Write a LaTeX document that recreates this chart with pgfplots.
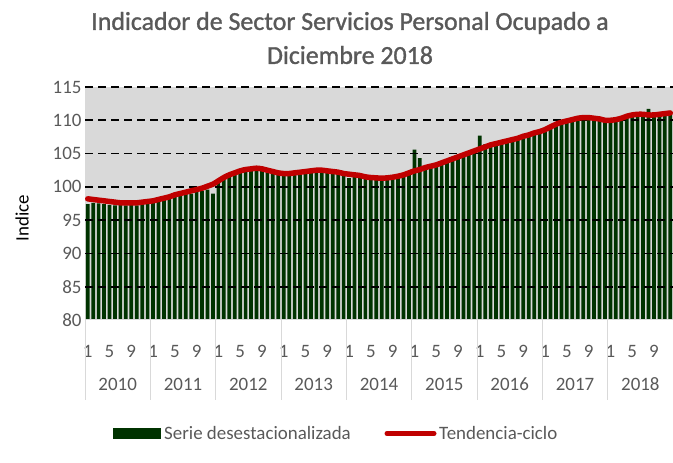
\documentclass[border=0pt]{standalone}
\usepackage{pgfplots}
\pgfplotsset{compat=1.18}
\usepackage{pgfplotstable}
\usepackage{fontspec}
\setmainfont{Carlito}
\newfontfamily\titlefont[FakeBold=1.2]{Carlito}
\definecolor{bgg}{RGB}{217,217,217}
\definecolor{dg}{RGB}{0,51,0}
\definecolor{rd}{RGB}{192,0,0}
\definecolor{tg}{RGB}{89,89,89}
\definecolor{sepg}{RGB}{217,217,217}

\pgfplotstableread{
i bar trend
0 97.4 98.2
1 97.6 98.1
2 97.5 98.0
3 97.4 97.9
4 97.3 97.8
5 97.2 97.7
6 97.3 97.6
7 97.2 97.6
8 97.3 97.6
9 97.2 97.6
10 97.4 97.7
11 97.5 97.8
12 97.6 97.9
13 97.8 98.1
14 98.0 98.3
15 98.2 98.5
16 98.5 98.8
17 98.7 99.0
18 98.9 99.2
19 99.0 99.4
20 99.2 99.6
21 99.4 99.8
22 99.6 100.1
23 99.0 100.4
24 101.0 100.9
25 101.5 101.4
26 101.8 101.8
27 102.2 102.1
28 102.5 102.4
29 102.7 102.6
30 102.9 102.7
31 102.6 102.8
32 103.0 102.7
33 102.7 102.5
34 102.4 102.3
35 102.2 102.1
36 102.0 102.0
37 102.1 102.0
38 102.3 102.1
39 102.2 102.2
40 102.4 102.3
41 102.5 102.4
42 102.6 102.5
43 102.4 102.5
44 102.5 102.4
45 102.2 102.3
46 102.3 102.2
47 102.0 102.0
48 101.3 101.9
49 101.8 101.8
50 101.6 101.7
51 101.5 101.5
52 101.4 101.4
53 101.3 101.35
54 101.2 101.3
55 101.4 101.35
56 101.3 101.45
57 101.5 101.6
58 101.8 101.8
59 102.0 102.1
60 105.6 102.4
61 104.3 102.6
62 102.9 102.9
63 103.0 103.1
64 103.2 103.3
65 103.5 103.6
66 103.8 103.9
67 104.1 104.2
68 104.4 104.5
69 104.7 104.8
70 105.0 105.1
71 105.2 105.4
72 107.7 105.7
73 106.4 106.0
74 106.2 106.3
75 106.3 106.5
76 106.5 106.7
77 106.8 106.9
78 107.0 107.1
79 107.2 107.3
80 107.5 107.6
81 107.7 107.8
82 108.0 108.1
83 108.2 108.3
84 108.5 108.6
85 109.0 109.0
86 109.3 109.4
87 109.8 109.7
88 110.0 109.9
89 110.3 110.1
90 110.5 110.3
91 110.4 110.4
92 110.5 110.4
93 110.3 110.3
94 110.1 110.2
95 110.0 110.0
96 110.0 110.0
97 110.1 110.1
98 110.3 110.3
99 110.5 110.6
100 110.6 110.8
101 110.7 110.9
102 110.6 110.9
103 111.7 110.8
104 110.5 110.8
105 110.6 110.9
106 110.7 111.0
107 110.8 111.1
}\datatable

\begin{document}
\begin{tikzpicture}[x=1bp,y=1bp]
\path[use as bounding box] (0,0) rectangle (673,463);
\begin{axis}[
  at={(85bp,143bp)}, anchor=south west,
  scale only axis, width=588bp, height=233bp,
  xmin=-0.5, xmax=107.5, ymin=80, ymax=115,
  clip mode=individual,
  axis background/.style={fill=bgg},
  axis line style={draw=none},
  major tick length=0pt,
  /pgf/number format/assume math mode=true,
  ytick={80,85,...,115},
  yticklabel style={font=\fontsize{19}{19}\selectfont, text=tg},
  xtick={0,4,...,104},
  xticklabels={1,5,9,1,5,9,1,5,9,1,5,9,1,5,9,1,5,9,1,5,9,1,5,9,1,5,9},
  xticklabel style={font=\fontsize{19}{19}\selectfont, text=tg, anchor=base, yshift=-38bp},
  extra x ticks={5.5,17.5,...,101.5},
  extra x tick labels={2010,2011,2012,2013,2014,2015,2016,2017,2018},
  extra x tick style={tick label style={yshift=-33bp}},
]
\addplot[ybar, bar width=0.68, fill=dg, draw=none, forget plot] table[x=i, y=bar] {\datatable};
\pgfplotsinvokeforeach{85,90,...,115}{
  \draw[black, line width=1.8bp, dash pattern=on 8bp off 5bp] (axis cs:-0.5,#1) -- (axis cs:107.5,#1);
}
\draw[sepg, line width=1bp] (axis cs:-0.5,80) -- (axis cs:107.5,80);
\pgfplotsinvokeforeach{0,...,9}{
  \draw[sepg, line width=1bp] (axis cs:{12*#1-0.5},80) -- ++(0pt,-80bp);
}
\addplot[rd, line width=5.5bp, line cap=round, line join=round, smooth] table[x=i, y=trend] {\datatable};
\end{axis}
\node[font=\fontsize{26}{26}\titlefont, text=tg] at (350,440) {Indicador de Sector Servicios Personal Ocupado a};
\node[font=\fontsize{26}{26}\titlefont, text=tg] at (350,408) {Diciembre 2018};
\node[font=\fontsize{19}{19}\selectfont, rotate=90] at (22,245) {Indice};
\fill[dg] (113,24) rectangle (161,35);
\node[font=\fontsize{19}{19}\selectfont, text=tg, anchor=west, inner sep=0pt] at (164,29.5) {Serie desestacionalizada};
\draw[rd, line width=5bp, line cap=round] (387,29.5) -- (434,29.5);
\node[font=\fontsize{19}{19}\selectfont, text=tg, anchor=west, inner sep=0pt] at (439,29.5) {Tendencia-ciclo};
\end{tikzpicture}
\end{document}
